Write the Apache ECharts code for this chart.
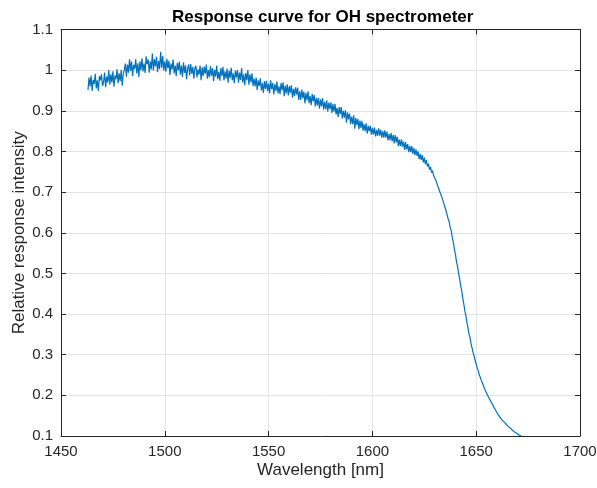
<!DOCTYPE html>
<html>
<head>
<meta charset="utf-8">
<script src="https://cdn.jsdelivr.net/npm/echarts@6/dist/echarts.min.js"></script>
<style>html,body{margin:0;padding:0;background:#fff}#c{width:597px;height:488px}</style>
</head>
<body>
<div id="c"></div>
<script>
// Axis ticks
const xTicks = [1450, 1500, 1550, 1600, 1650, 1700];
const yTicks = [0.1, 0.2, 0.3, 0.4, 0.5, 0.6, 0.7, 0.8, 0.9, 1.0, 1.1];
const stepNm = 0.5;

// Response values (thousandths); each segment has its start wavelength (nm)
const seg1Start = 1463.0;
const seg1 = [951,982,960,987,949,976,966,991,955,975,949,985,975,990,961,970,994,958,984,970,1000,964,990,970,997,959,987,978,1002,968,992,973,1000,962,991,1002];
const seg2Start = 1481.0;
const seg2 = [1016,984,1014,994,1027,998,1022,986,1013,1003,1027,992,1017,983,1022,1000,1029,997,1016,993,1034,1015,1026,994,1022,1002,1041,999,1027,1009,1033,995,1023,1003,1045,1006,1035,999,1022];
const seg3Start = 1500.5;
const seg3 = [996,1028,1004,1023,988,1016,1002,1026,992,1011,
  985,1018,1000,1021,989,1011,983,1019,993,1012,
  978,1004,1014,987,1015,991,1008,979,1005,1011,
  982,1002,989,1011,975,1007,986,1009,991,1014,
  979,1001,982,1010,986,1005,973,1001,984,1011,
  978,996,974,1005,986,1008,975,997,979,1004,
  969,999,981,1006,975,992,968,999,982,1000,
  969,994,976,1005,970,990,963,993,975,1000];
const seg4Start = 1540.5;
const seg4 = [964,990,970,992,961,979,960,982,951,975,
  961,980,950,968,944,973,954,974,948,967,
  943,975,953,968,940,966,949,972,943,960,
  941,968,951,970,936,962,943,965,938,961,
  944,963,932,954,936,958,940,957,927,948,
  927,952,931,947,918,944,926,948,919,937,
  914,941,923,939,911,932,913,932,905,928,
  911,931,903,922,904,926,898,920,904,921];
const seg5Start = 1580.5;
const seg5 = [895,917,898,917,891,907,885,909,892,909,
  881,900,883,901,871,896,879,893,867,886,
  867,889,856,882,865,880,855,876,858,875,
  851,867,850,869,844,863,850,863,841,858,
  842,859,837,853,838,857,839,854,834,850,
  834,852,834,849,827,843,828,845,825,841,
  820,840,822,836,813,829,813,830,812,824,
  804,823,805,818,798,814,798,813,794,808,
  791,805,789,800,781,794,779,791,773,785,
  769,779,763,770,755,762,748,753,740,743];
const seg6Start = 1630.5;
const seg6 = [730,730,715,715,701,701,687,685,670,668,654,650,634,627,612,605,587,576,559,547,529,518,500,488,470,458,439,426,409,397,380,367,352,342,327,317,305,297,285,277,267,261,250,244,236,231,223,220,211,208,200,197,190,188,181,178,171,169,162,160,153,151,146,144,139,138,134,133,129,129,123,123,119,119,114,114,110,111,107,107,103,104,100,100];

const segments = [[seg1Start, seg1],[seg2Start, seg2],[seg3Start, seg3],[seg4Start, seg4],[seg5Start, seg5],[seg6Start, seg6]];
const data = [];
segments.forEach(([s, arr]) => arr.forEach((v, i) => data.push([s + i * stepNm, v / 1000])));

const txt = '#262626';
const font = 'Liberation Sans, Arial, Helvetica, sans-serif';
const chart = echarts.init(document.getElementById('c'), null, {renderer: 'canvas'});
const common = {
  type: 'value',
  axisLine: {show: true, lineStyle: {color: txt, width: 1}},
  axisTick: {show: true, inside: true, length: 5, lineStyle: {color: txt}},
  splitLine: {show: false},
};
chart.setOption({
  animation: false,
  backgroundColor: '#fff',
  title: {
    text: 'Response curve for OH spectrometer',
    left: 167, top: 4,
    textStyle: {fontFamily: font, fontWeight: 'bold', fontSize: 17, color: '#000'}
  },
  grid: {left: 61, right: 17, top: 29.5, bottom: 52, containLabel: false, outerBoundsMode: 'none'},
  xAxis: [
    Object.assign({}, common, {
      min: xTicks[0], max: xTicks[xTicks.length - 1], interval: 50, position: 'bottom',
      name: 'Wavelength [nm]', nameLocation: 'middle', nameGap: 26, nameMoveOverlap: false,
      nameTextStyle: {fontFamily: font, fontSize: 17, color: txt},
      axisLabel: {fontFamily: font, fontSize: 15, color: txt, margin: 8, formatter: v => String(v)},
      splitLine: {show: true, lineStyle: {color: '#e3e3e3', width: 1}}
    }),
    Object.assign({}, common, {
      min: xTicks[0], max: xTicks[xTicks.length - 1], interval: 50, position: 'top',
      axisLabel: {show: false}
    })
  ],
  yAxis: [
    Object.assign({}, common, {
      min: yTicks[0], max: yTicks[yTicks.length - 1], interval: 0.1, position: 'left',
      name: 'Relative response intensity', nameLocation: 'middle', nameGap: 33, nameMoveOverlap: false,
      nameTextStyle: {fontFamily: font, fontSize: 17, color: txt},
      axisLabel: {fontFamily: font, fontSize: 15, color: txt, margin: 8,
        formatter: v => String(+v.toFixed(1))},
      splitLine: {show: true, lineStyle: {color: '#e3e3e3', width: 1}}
    }),
    Object.assign({}, common, {
      min: yTicks[0], max: yTicks[yTicks.length - 1], interval: 0.1, position: 'right',
      axisLabel: {show: false}
    })
  ],
  series: [{
    type: 'line',
    data: data,
    xAxisIndex: 0, yAxisIndex: 0,
    showSymbol: false,
    symbol: 'none',
    lineStyle: {color: '#0072BD', width: 1.2},
    silent: true
  }]
});
</script>
</body>
</html>
